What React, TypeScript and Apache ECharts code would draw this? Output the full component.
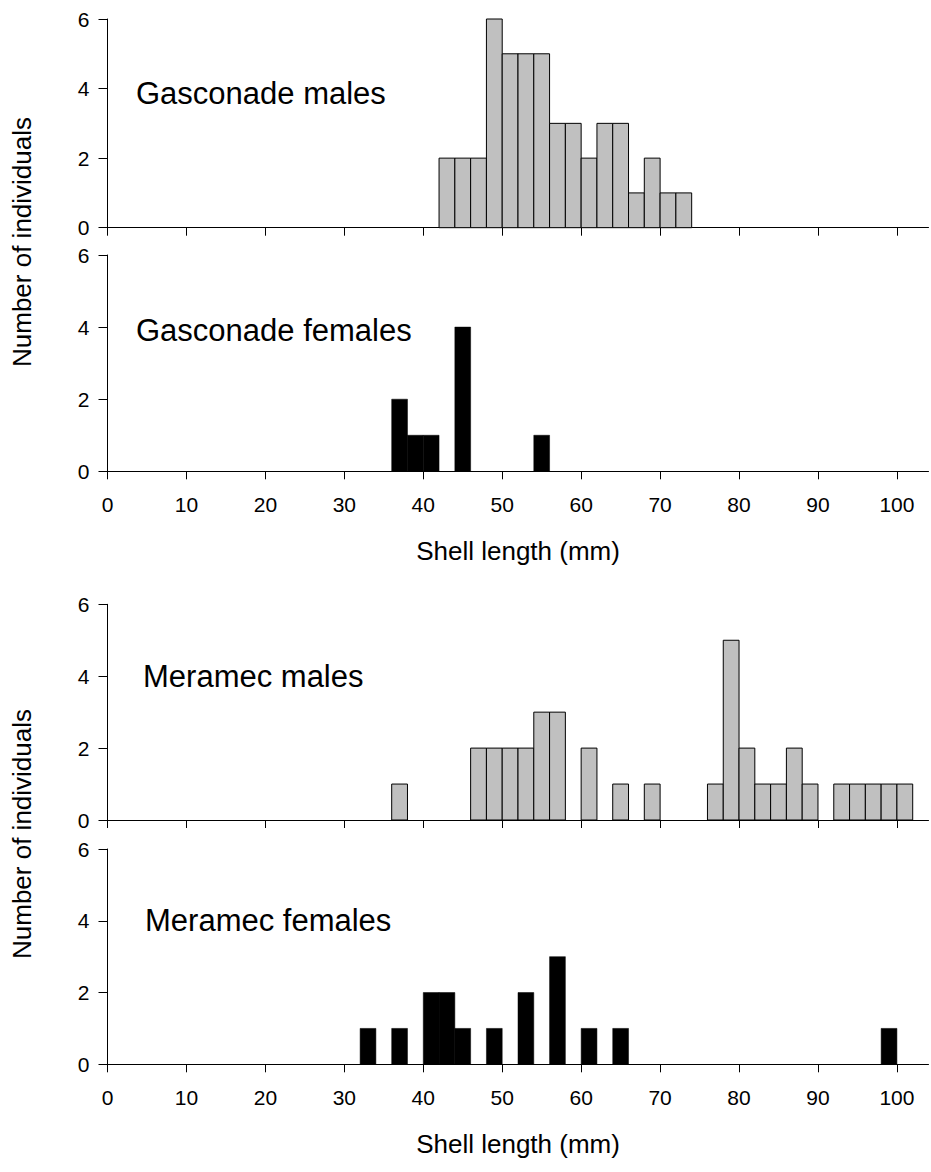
import React, { useEffect, useRef } from "react";
import * as echarts from "echarts";

const BIN_WIDTH = 2;
const X_MIN = 0;
const X_MAX = 104;
const xTickValues = [0, 10, 20, 30, 40, 50, 60, 70, 80, 90, 100];
const Y_MAX = 6;
const Y_INTERVAL = 2;

const gasconadeMaleBins = [42, 44, 46, 48, 50, 52, 54, 56, 58, 60, 62, 64, 66, 68, 70, 72];
const gasconadeMaleCounts = [2, 2, 2, 6, 5, 5, 5, 3, 3, 2, 3, 3, 1, 2, 1, 1];

const gasconadeFemaleBins = [36, 38, 40, 44, 54];
const gasconadeFemaleCounts = [2, 1, 1, 4, 1];

const meramecMaleBins = [36, 46, 48, 50, 52, 54, 56, 60, 64, 68, 76, 78, 80, 82, 84, 86, 88, 92, 94, 96, 98, 100];
const meramecMaleCounts = [1, 2, 2, 2, 2, 3, 3, 2, 1, 1, 1, 5, 2, 1, 1, 2, 1, 1, 1, 1, 1, 1];

const meramecFemaleBins = [32, 36, 40, 42, 44, 48, 52, 56, 60, 64, 98];
const meramecFemaleCounts = [1, 1, 2, 2, 1, 1, 2, 3, 1, 1, 1];

const panelTitles = ["Gasconade males", "Gasconade females", "Meramec males", "Meramec females"];
const yAxisTitle = "Number of individuals";
const xAxisTitle = "Shell length (mm)";

const FONT = "'Liberation Sans', Arial, Helvetica, sans-serif";

const panels = [
  { bins: gasconadeMaleBins, counts: gasconadeMaleCounts, male: true, top: 19, height: 208.7, showX: false },
  { bins: gasconadeFemaleBins, counts: gasconadeFemaleCounts, male: false, top: 255, height: 216.3, showX: true },
  { bins: meramecMaleBins, counts: meramecMaleCounts, male: true, top: 604.3, height: 215.7, showX: false },
  { bins: meramecFemaleBins, counts: meramecFemaleCounts, male: false, top: 849, height: 215.3, showX: true },
];

const titlePos = [
  { x: 136, y: 93 },
  { x: 136, y: 330 },
  { x: 143, y: 676 },
  { x: 145, y: 920 },
];

const GRID_LEFT = 107.5;
const GRID_WIDTH = 821;

export default function App() {
  const ref = useRef<HTMLDivElement>(null);

  useEffect(() => {
    if (!ref.current) return;
    const chart = echarts.init(ref.current, undefined, { renderer: "svg" });

    const grid = panels.map((p) => ({
      left: GRID_LEFT,
      top: p.top,
      width: GRID_WIDTH,
      height: p.height,
      containLabel: false,
    }));

    const xAxis = panels.map((p, i) => ({
      type: "value",
      gridIndex: i,
      min: X_MIN,
      max: X_MAX,
      interval: 10,
      axisLine: { show: true, onZero: false, lineStyle: { color: "#000", width: 1 } },
      axisTick: { show: true, inside: false, length: 8, customValues: xTickValues, lineStyle: { color: "#000", width: 1 } },
      axisLabel: {
        show: p.showX,
        customValues: xTickValues,
        fontSize: 21,
        fontFamily: FONT,
        color: "#000",
        margin: 23,
      },
      splitLine: { show: false },
      name: p.showX ? xAxisTitle : "",
      nameLocation: "middle",
      nameGap: 67,
      nameTextStyle: { fontSize: 26, fontFamily: FONT, color: "#000" },
    }));

    const yAxis = panels.map((p, i) => ({
      type: "value",
      gridIndex: i,
      min: 0,
      max: Y_MAX,
      interval: Y_INTERVAL,
      axisLine: { show: true, onZero: false, lineStyle: { color: "#000", width: 1 } },
      axisTick: { show: true, inside: false, length: 9, lineStyle: { color: "#000", width: 1 } },
      axisLabel: { fontSize: 21, fontFamily: FONT, color: "#000", margin: 18 },
      splitLine: { show: false },
    }));

    const series = panels.map((p, i) => ({
      type: "custom",
      name: panelTitles[i],
      xAxisIndex: i,
      yAxisIndex: i,
      encode: { x: 0, y: 1 },
      data: p.bins.map((b, k) => [b, p.counts[k]]),
      renderItem: (params: any, api: any) => {
        const start = api.value(0);
        const count = api.value(1);
        const p0 = api.coord([start, 0]);
        const p1 = api.coord([start + BIN_WIDTH, count]);
        return {
          type: "rect",
          shape: { x: p0[0], y: p1[1], width: p1[0] - p0[0], height: p0[1] - p1[1] },
          style: p.male
            ? { fill: "#C0C0C0", stroke: "#000", lineWidth: 1 }
            : { fill: "#000", stroke: "#000", lineWidth: 0.5 },
        };
      },
    }));

    const graphic: any[] = panelTitles.map((t, i) => ({
      type: "text",
      x: titlePos[i].x,
      y: titlePos[i].y,
      style: {
        text: t,
        fontSize: 31,
        fontFamily: FONT,
        fill: "#000",
        textAlign: "left",
        textVerticalAlign: "middle",
      },
    }));
    [242, 834].forEach((cy) => {
      graphic.push({
        type: "text",
        x: 22,
        y: cy,
        rotation: Math.PI / 2,
        style: {
          text: yAxisTitle,
          fontSize: 26,
          fontFamily: FONT,
          fill: "#000",
          textAlign: "center",
          textVerticalAlign: "middle",
        },
      });
    });

    chart.setOption({
      animation: false,
      backgroundColor: "#fff",
      grid,
      xAxis,
      yAxis,
      series,
      graphic,
    } as any);

    return () => chart.dispose();
  }, []);

  return (
    <div
      ref={ref}
      style={{ position: "absolute", left: 0, top: 0, width: 931, height: 1172, background: "#fff" }}
    />
  );
}
